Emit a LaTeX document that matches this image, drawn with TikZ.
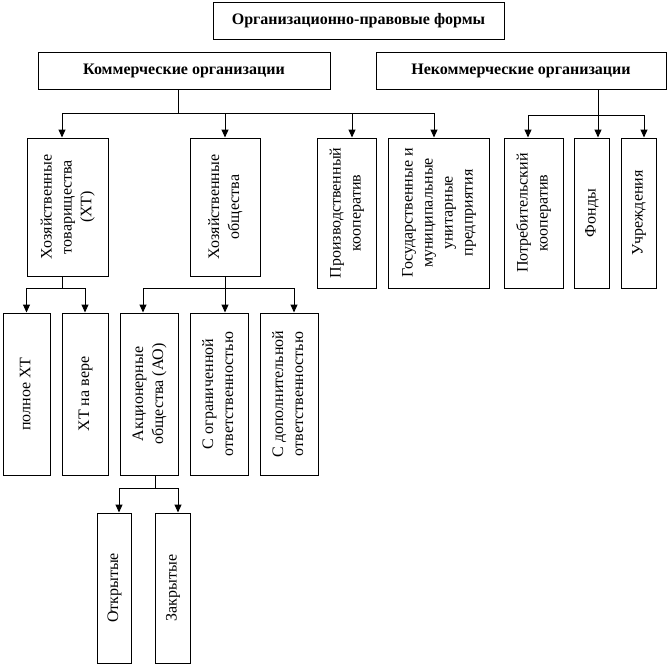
\documentclass[tikz,border=0pt]{standalone}
\usepackage{fontspec}
\setmainfont{Liberation Serif}
\usepackage{graphicx}
\usetikzlibrary{arrows.meta}

\newcommand{\vtext}[1]{\rotatebox{90}{\begin{tabular}{@{}c@{}}#1\end{tabular}}}

\begin{document}
\begin{tikzpicture}[x=1pt,y=-1pt,
  block/.style={draw,line width=1pt,inner sep=0pt,font=\fontsize{16}{20}\selectfont},
  head/.style={block,font=\fontsize{16}{20}\selectfont\bfseries,minimum height=37},
  arr/.style={-{Triangle[length=8pt,width=7pt]},line width=1pt}]
\def\yTwo{207}
\def\yTwoB{213}
\def\yThree{394}
\def\yFour{588}
\useasboundingbox (0,0) rectangle (669,667);
\path
(358.5,20.5) node [head,minimum width=291] (forms) {Организационно-правовые формы}
(184,70.5) node [head,minimum width=292] (komm) {Коммерческие организации}
(521,70.5) node [head,minimum width=290] (nekomm) {Некоммерческие организации}
;
% second row
\path
(67.5,\yTwo) node [block,minimum width=81,minimum height=138] (xt) {\vtext{Хозяйственные\\товарищества\\(ХТ)}}
(225,\yTwo) node [block,minimum width=70,minimum height=138] (xo) {\vtext{Хозяйственные\\общества}}
(346.5,\yTwoB) node [block,minimum width=59,minimum height=150] (proizv) {\vtext{Производственный\\кооператив}}
(438.5,\yTwoB) node [block,minimum width=101,minimum height=150] (gos) {\vtext{Государственные и\\муниципальные\\унитарные\\предприятия}}
(533.5,\yTwoB) node [block,minimum width=59,minimum height=150] (potreb) {\vtext{Потребительский\\кооператив}}
(591.5,\yTwoB) node [block,minimum width=35,minimum height=150] (fond) {\vtext{Фонды}}
(638.5,\yTwoB) node [block,minimum width=35,minimum height=150] (uchr) {\vtext{Учреждения}}
;
% third row
\path
(26.5,\yThree) node [block,minimum width=47,minimum height=162] (poln) {\vtext{полное ХТ}}
(85,\yThree) node [block,minimum width=46,minimum height=162] (vera) {\vtext{ХТ на вере}}
(149,\yThree) node [block,minimum width=58,minimum height=162] (ao) {\vtext{Акционерные\\общества (АО)}}
(219,\yThree) node [block,minimum width=58,minimum height=162] (ogr) {\vtext{С ограниченной\\ответственностью}}
(289,\yThree) node [block,minimum width=58,minimum height=162] (dop) {\vtext{С дополнительной\\ответственностью}}
(114,\yFour) node [block,minimum width=34,minimum height=150] (otkr) {\vtext{Открытые}}
(172.5,\yFour) node [block,minimum width=35,minimum height=150] (zakr) {\vtext{Закрытые}}
;

\coordinate (kbus) at (178,113);
\coordinate (nbus) at (598,115);
\coordinate (xtbus) at (62,288);
\coordinate (xobus) at (225,288);
\coordinate (aobus) at (155,488);

\begin{scope}[every path/.style={draw,line width=1pt}]
\path (komm.south -| kbus) -- (kbus);
\path (xt.south -| xtbus) -- (xtbus);
\path (xo.south) -- (xobus);
\path (ao.south -| aobus) -- (aobus);
\end{scope}

\draw[arr] (kbus) -| ([xshift=-5.5]xt.north);
\draw[arr] (kbus) -| (xo.north);
\draw[arr] (kbus) -| ([xshift=5.5]proizv.north);
\draw[arr] (kbus) -| ([xshift=-4.5]gos.north);
\draw[arr] (nekomm.south -| nbus) -- ([xshift=6.5]fond.north);
\draw[arr] (nbus) -| ([xshift=-5.5]potreb.north);
\draw[arr] (nbus) -| ([xshift=5.5]uchr.north);
\draw[arr] (xtbus) -| (poln.north);
\draw[arr] (xtbus) -| (vera.north);
\draw[arr] (xobus) -| ([xshift=-6]ao.north);
\draw[arr] (xobus) -| ([xshift=6]ogr.north);
\draw[arr] (xobus) -| ([xshift=5]dop.north);
\draw[arr] (aobus) -| ([xshift=5]otkr.north);
\draw[arr] (aobus) -| ([xshift=5.5]zakr.north);
\end{tikzpicture}
\end{document}
